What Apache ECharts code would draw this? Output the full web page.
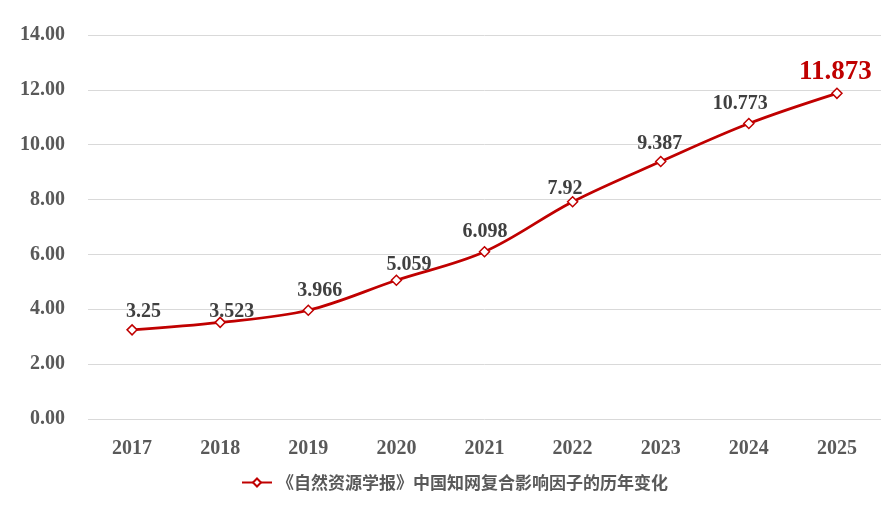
<!DOCTYPE html>
<html><head><meta charset="utf-8">
<script src="https://cdn.jsdelivr.net/npm/echarts@6/dist/echarts.min.js"></script>
<style>html,body{margin:0;padding:0;background:#fff}#c{width:891px;height:510px}</style>
</head><body><div id="c"></div>
<script>
const years = ['2017','2018','2019','2020','2021','2022','2023','2024','2025'];
const values = [3.25, 3.523, 3.966, 5.059, 6.098, 7.92, 9.387, 10.773, 11.873];
const seriesName = '《自然资源学报》中国知网复合影响因子的历年变化';
const serif = '"Liberation Serif","DejaVu Serif",serif';
const chart = echarts.init(document.getElementById('c'));
// label placement (manually nudged in the original)
const labelOffsets = [[11.5,-18],[11.5,-11],[11.5,-19],[12.5,-15],[0.5,-20],[-7.5,-13],[-1,-17.5],[-8.5,-19.5],[-1.5,-21.5]];
const data = values.map((v, i) => {
  const d = { value: v, label: { offset: labelOffsets[i] } };
  if (i === values.length - 1) { d.label.color = '#C00000'; d.label.fontSize = 27; }
  return d;
});
chart.setOption({
  animation: false,
  grid: { left: 88, right: 10, top: 35, bottom: 91 },
  legend: {
    bottom: 14, left: 236,
    itemWidth: 30, itemHeight: 10, itemGap: 6,
    textStyle: { fontFamily: '"Noto Sans CJK SC",sans-serif', fontWeight: 'bold', fontSize: 17, color: '#595959' },
    data: [seriesName]
  },
  xAxis: {
    type: 'category', data: years, boundaryGap: true,
    axisLine: { show: false }, axisTick: { show: false },
    axisLabel: { fontFamily: serif, fontWeight: 'bold', fontSize: 20, color: '#595959', margin: 20 }
  },
  yAxis: {
    type: 'value', min: 0, max: 14, interval: 2,
    axisLine: { show: false }, axisTick: { show: false },
    splitLine: { lineStyle: { color: '#D9D9D9', width: 1 } },
    axisLabel: { fontFamily: serif, fontWeight: 'bold', fontSize: 20, color: '#595959', margin: 23,
      formatter: v => v.toFixed(2) }
  },
  series: [{
    name: seriesName, type: 'line', data: data, smooth: 0.35,
    symbol: 'diamond', symbolSize: 10, showAllSymbol: true,
    itemStyle: { color: '#fff', borderColor: '#C00000', borderWidth: 1.5 },
    lineStyle: { color: '#C00000', width: 2.75 },
    label: { show: true, position: 'inside', fontFamily: serif, fontWeight: 'bold', fontSize: 20, color: '#404040' }
  }]
});
</script></body></html>
